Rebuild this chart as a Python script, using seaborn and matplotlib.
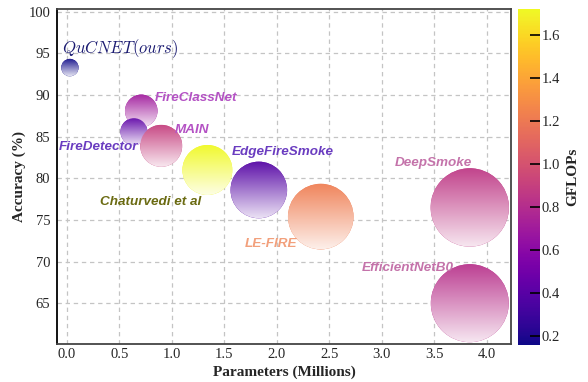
import numpy as np
import pandas as pd
import matplotlib
matplotlib.use("Agg")
import matplotlib.pyplot as plt
import seaborn as sns
from matplotlib import transforms
from matplotlib.image import AxesImage
from matplotlib.patches import Circle
from matplotlib.colors import Normalize
from matplotlib.cm import ScalarMappable

# ---- data -------------------------------------------------------------
models = ["QuCNET(ours)", "FireClassNet", "FireDetector", "MAIN",
          "Chaturvedi et al", "EdgeFireSmoke", "LE-FIRE", "DeepSmoke",
          "EfficientNetB0"]
params_m = [0.03, 0.71, 0.64, 0.90, 1.34, 1.83, 2.42, 3.84, 3.84]
accuracy = [93.3, 88.1, 85.6, 83.9, 81.0, 78.6, 75.4, 76.5, 65.0]
gflops = [0.16, 0.70, 0.42, 0.90, 1.72, 0.38, 1.22, 0.86, 0.82]
bubble_area = [157, 551, 378, 914, 1296, 1660, 2230, 3185, 3154]

x_ticks = [0.0, 0.5, 1.0, 1.5, 2.0, 2.5, 3.0, 3.5, 4.0]
y_ticks = [65, 70, 75, 80, 85, 90, 95, 100]
cbar_ticks = [0.2, 0.4, 0.6, 0.8, 1.0, 1.2, 1.4, 1.6]

df = pd.DataFrame({"model": models, "params": params_m, "acc": accuracy,
                   "gflops": gflops, "area": bubble_area})

# label placement (data coords) and colours
label_style = {
    "QuCNET(ours)":     (-0.045, 95.6, "#1c1c72"),
    "FireClassNet":     (0.834, 89.7, "#b452c4"),
    "FireDetector":     (0.680, 83.8, "#6a3cc0"),
    "MAIN":             (1.030, 85.8, "#b452c4"),
    "Chaturvedi et al": (0.317, 77.1, "#6b6b12"),
    "EdgeFireSmoke":    (1.574, 83.2, "#6a3cc0"),
    "LE-FIRE":          (1.700, 72.1, "#f2a07c"),
    "DeepSmoke":        (3.130, 81.8, "#c473aa"),
    "EfficientNetB0":   (2.810, 69.2, "#c473aa"),
}

# ---- style ------------------------------------------------------------
sns.set_style("whitegrid")
plt.rcParams["font.family"] = ["Liberation Serif", "DejaVu Serif"]
plt.rcParams["mathtext.fontset"] = "cm"

fig = plt.figure(figsize=(5.88, 3.82), dpi=100)
ax = fig.add_axes([57.3 / 588, 38 / 382, 453.4 / 588, 334.7 / 382])

vmin, vmax = 0.16, 1.72
sns.scatterplot(data=df, x="params", y="acc", hue="gflops", palette="plasma",
                hue_norm=(vmin, vmax), size="area",
                sizes=(min(bubble_area), max(bubble_area)),
                size_norm=(min(bubble_area), max(bubble_area)),
                linewidth=0, legend=False, ax=ax, zorder=3)

ax.set_xlim(-0.09, 4.23)
ax.set_ylim(60.1, 100.3)
ax.set_xticks(x_ticks)
ax.set_yticks(y_ticks)
ax.set_xticklabels([f"{t:.1f}" for t in x_ticks])
ax.set_yticklabels([str(t) for t in y_ticks])
ax.tick_params(axis="x", length=0, labelsize=10.5, pad=3)
ax.tick_params(axis="y", length=0, labelsize=10.5, pad=5)
ax.grid(True, color="#c4c4c4", linestyle=(0, (3.5, 3)), linewidth=0.9)
ax.set_axisbelow(True)
for side, sp in ax.spines.items():
    sp.set_visible(True)
    sp.set_linewidth(1.3)
    sp.set_color("#444444" if side != "left" else "black")

ax.set_xlabel("Parameters (Millions)", fontsize=11, fontweight="bold", labelpad=3)
ax.set_ylabel("Accuracy (%)", fontsize=11, fontweight="bold", labelpad=2)

# ---- vertical gradient fill for each bubble ----------------------------
coll = ax.collections[0]
offsets = coll.get_offsets()
sizes = coll.get_sizes()
faces = coll.get_facecolors()
n_rows = 256
t = np.linspace(0, 1, n_rows)[:, None]
for i, (px, py) in enumerate(offsets):
    s = sizes[i] if len(sizes) > 1 else sizes[0]
    r_px = np.sqrt(s) / 2 * fig.dpi / 72
    base = np.array(faces[i][:3])
    mix = 0.06 + 0.82 * t
    rgb = base[None, :] * (1 - mix) + mix
    rgba = np.concatenate([rgb, np.ones((n_rows, 1))], axis=1)[:, None, :]
    rgba = np.repeat(rgba, 2, axis=1)
    trans = transforms.Affine2D().scale(r_px) + \
        transforms.ScaledTranslation(px, py, ax.transData)
    im = AxesImage(ax, extent=(-1, 1, -1, 1), origin="upper",
                   interpolation="bilinear")
    im.set_data(rgba)
    im.set_transform(trans)
    im.set_clip_path(Circle((0, 0), 1, transform=trans))
    im.set_zorder(4)
    ax.add_artist(im)

# ---- labels --------------------------------------------------------------
for name in models:
    lx, ly, col = label_style[name]
    if name == "QuCNET(ours)":
        ax.text(lx, ly, r"$QuCNET(ours)$", color=col, fontsize=12,
                ha="left", va="center", zorder=5)
    else:
        ax.text(lx, ly, name, color=col, fontsize=9.7,
                ha="right" if name == "FireDetector" else "left", va="center",
                family="Liberation Sans", weight="bold", style="italic", zorder=5)

# ---- colour bar ------------------------------------------------------------
cax = fig.add_axes([518 / 588, 37 / 382, 22 / 588, 336 / 382])
sm = ScalarMappable(norm=Normalize(vmin, vmax), cmap="plasma")
cbar = fig.colorbar(sm, cax=cax, ticks=cbar_ticks)
cbar.outline.set_visible(False)
cax.grid(False)
cax.set_axisbelow(False)
cax.set_yticklabels([f"{v:.1f}" for v in cbar_ticks])
cax.tick_params(direction="in", length=7, width=1.2, color="black",
                labelsize=10.5, pad=1)
cbar.set_label("GFLOPs", fontsize=11, fontweight="bold", labelpad=5)

fig.savefig("out.png", dpi=100)
